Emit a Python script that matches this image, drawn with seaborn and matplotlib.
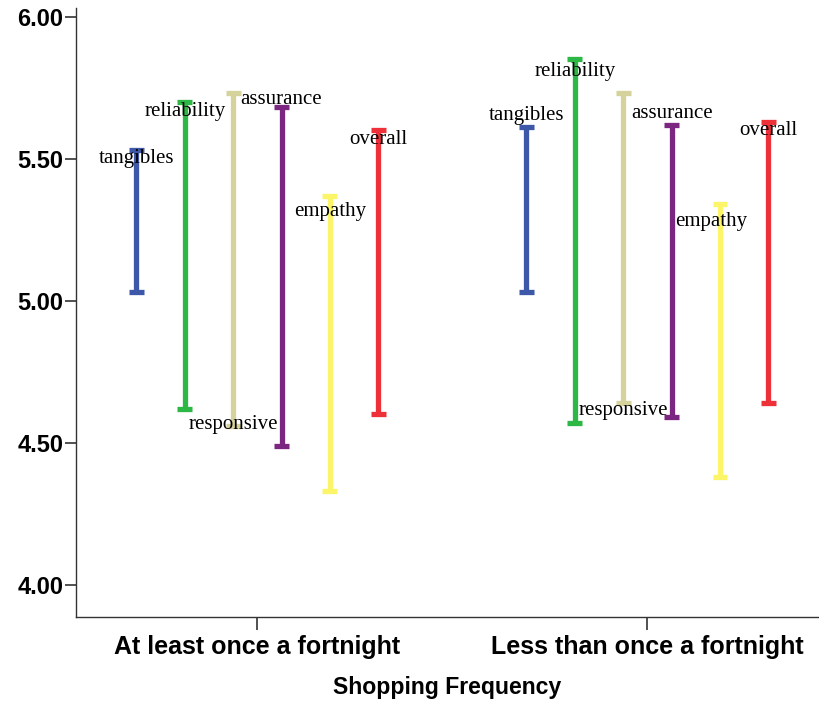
import numpy as np
import pandas as pd
import matplotlib
matplotlib.use("Agg")
import matplotlib.pyplot as plt
import seaborn as sns

# -------------------------------
# Data (interval low / high per dimension and group)
# -------------------------------
groups = ["At least once a fortnight", "Less than once a fortnight"]
dimensions = ["tangibles", "reliability", "responsive", "assurance", "empathy", "overall"]

low_g1 = [5.03, 4.62, 4.56, 4.49, 4.33, 4.60]
high_g1 = [5.53, 5.70, 5.73, 5.68, 5.37, 5.60]
low_g2 = [5.03, 4.57, 4.64, 4.59, 4.38, 4.64]
high_g2 = [5.61, 5.85, 5.73, 5.62, 5.34, 5.63]

colors = ["#3D58A8", "#2DB845", "#D6D29B", "#7B2680", "#FCF56A", "#EE3039"]

# label placement (value-axis position of each text)
label_y_g1 = [5.50, 5.665, 4.565, 5.708, 5.315, 5.568]
label_y_g2 = [5.65, 5.807, 4.615, 5.659, 5.279, 5.599]
label_dx_g2 = [0, 0, 0, 0, -0.022, 0]

# long table: each interval as two rows, seaborn aggregates to (min, max)
rows = []
for g, lo, hi in [(groups[0], low_g1, high_g1), (groups[1], low_g2, high_g2)]:
    for d, a, b in zip(dimensions, lo, hi):
        rows.append({"group": g, "dim": d, "score": a})
        rows.append({"group": g, "dim": d, "score": b})
df = pd.DataFrame(rows)

sns.set_theme(style="white")
plt.rcParams["font.family"] = ["Liberation Sans", "DejaVu Sans"]

fig = plt.figure(figsize=(8.19, 7.02), dpi=100)
ax = fig.add_axes([0.0928, 0.1211, 0.9072, 0.8675])

dodge = 0.62
sns.pointplot(
    data=df, x="group", y="score", hue="dim",
    order=groups, hue_order=dimensions, palette=colors,
    estimator="mean", errorbar=lambda v: (v.min(), v.max()),
    dodge=dodge, capsize=0.038, linestyle="none", marker="",
    err_kws={"linewidth": 3.8, "solid_capstyle": "butt"},
    legend=False, ax=ax,
)

# dimension labels, serif like the original
step = dodge / (len(dimensions) - 1)
for gi, (ly, dxs) in enumerate([(label_y_g1, [0] * 6), (label_y_g2, label_dx_g2)]):
    for i, d in enumerate(dimensions):
        x = gi - dodge / 2 + step * i + dxs[i]
        ax.text(x, ly[i], d, ha="center", va="center", fontsize=15,
                family=["Liberation Serif", "DejaVu Serif"], color="black")

ax.set_xlim(-0.465, 1.44)
ax.set_ylim(3.887, 6.03)
ax.set_yticks([4.0, 4.5, 5.0, 5.5, 6.0])
ax.set_yticklabels(["4.00", "4.50", "5.00", "5.50", "6.00"], fontsize=17,
                   fontweight="bold", color="black")
ax.set_xticks([0, 1])
ax.set_xticklabels(groups, fontsize=18, fontweight="bold", color="black")
ax.set_xlabel("Shopping Frequency", fontsize=16.6, fontweight="bold",
              color="black", labelpad=12)
ax.set_ylabel("")

for s in ["top", "right"]:
    ax.spines[s].set_visible(False)
for s in ["left", "bottom"]:
    ax.spines[s].set_color("#333333")
    ax.spines[s].set_linewidth(1.0)
ax.tick_params(axis="y", direction="out", length=8, width=1.2, color="#333333", pad=1, left=True)
ax.tick_params(axis="x", direction="out", length=9, width=1.2, color="#333333", pad=4, bottom=True)

fig.savefig("out.png", dpi=100, facecolor="white")
